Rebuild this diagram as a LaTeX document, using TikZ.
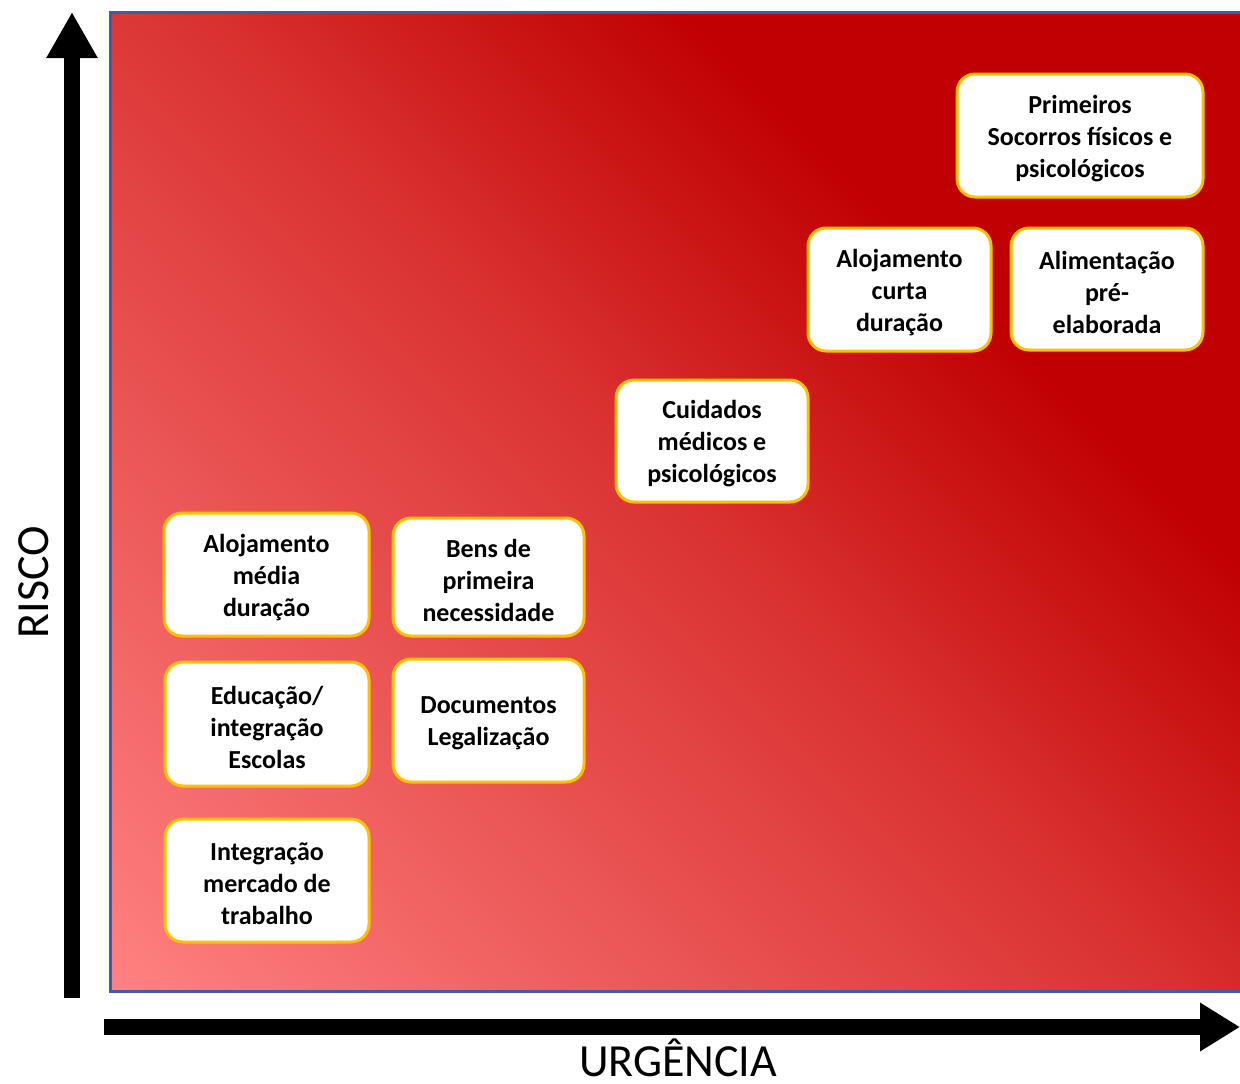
\documentclass[tikz,border=0pt]{standalone}
\usepackage{fontspec}
\setmainfont{Carlito}
\usetikzlibrary{arrows.meta}
\definecolor{bgA}{HTML}{FF8080}
\definecolor{bgB}{HTML}{DA3232}
\definecolor{bgC}{HTML}{C00000}
\definecolor{frameblue}{HTML}{3D5FA0}
\definecolor{boxgold}{HTML}{FFC000}
\pgfdeclareverticalshading{bgshade}{100bp}{color(0bp)=(bgA); color(15bp)=(bgA); color(50bp)=(bgB); color(67bp)=(bgC); color(100bp)=(bgC)}
\tikzset{
  itembox/.style={draw=boxgold, line width=3pt, fill=white, rounded corners=18pt, inner sep=0pt},
  itemtext/.style={align=center, inner sep=0pt, font=\bfseries\fontsize{26}{32}\selectfont},
  axisarrow/.style={line width=16pt, -{Triangle[width=48pt,length=46pt]}},
  axislabel/.style={font=\fontsize{46}{55}\selectfont, inner sep=0pt}
}
\newcommand{\ibox}[6]{%
  \node[itembox, minimum width={#4-#2}, minimum height={#5-#3}] (#1) at ({(#2+#4)/2},{(#3+#5)/2}) {};
  \node[itemtext] (#1t) at ([yshift=-3pt]#1.center) {#6};}
\begin{document}
\begin{tikzpicture}[x=1pt,y=-1pt]
\useasboundingbox (0,0) rectangle (1240,1084);
\clip (0,0) rectangle (1240,1084);
% background field
\shade[shading=bgshade, shading angle=-45] (110,12) rectangle (1243,991);
\draw[frameblue, line width=3pt] (1243,12) -- (110,12) -- (110,991) -- (1243,991);
% axes
\coordinate (yfrom) at (72,998);
\coordinate (yto) at (72,12);
\coordinate (xfrom) at (104,1027);
\coordinate (xto) at (1240,1027);
\draw[axisarrow] (yfrom) -- (yto);
\draw[line width=16pt, -{Triangle[width=46pt,length=40pt]}] (xfrom) -- (xto);
\node[axislabel, rotate=90, anchor=base] (risco) at (48,582) {RISCO};
\node[axislabel, anchor=base] (urg) at (678,1076) {URGÊNCIA};
% boxes
\ibox{b1}{957}{74}{1203}{197}{Primeiros\\Socorros físicos e\\psicológicos}
\ibox{b2}{808}{228}{991}{351}{Alojamento\\curta\\duração}
\ibox{b3}{1011}{228}{1203}{350}{Alimentação\\pré-\\elaborada}
\ibox{b4}{616}{380}{808}{502}{Cuidados\\médicos e\\psicológicos}
\ibox{b5}{164}{513}{369}{636}{Alojamento\\média\\duração}
\ibox{b6}{393}{518}{584}{636}{Bens de\\primeira\\necessidade}
\ibox{b7}{165}{662}{369}{786}{Educação/\\integração\\Escolas}
\ibox{b8}{393}{659}{584}{782}{Documentos\\Legalização}
\ibox{b9}{165}{819}{369}{942}{Integração\\mercado de\\trabalho}
\end{tikzpicture}
\end{document}
